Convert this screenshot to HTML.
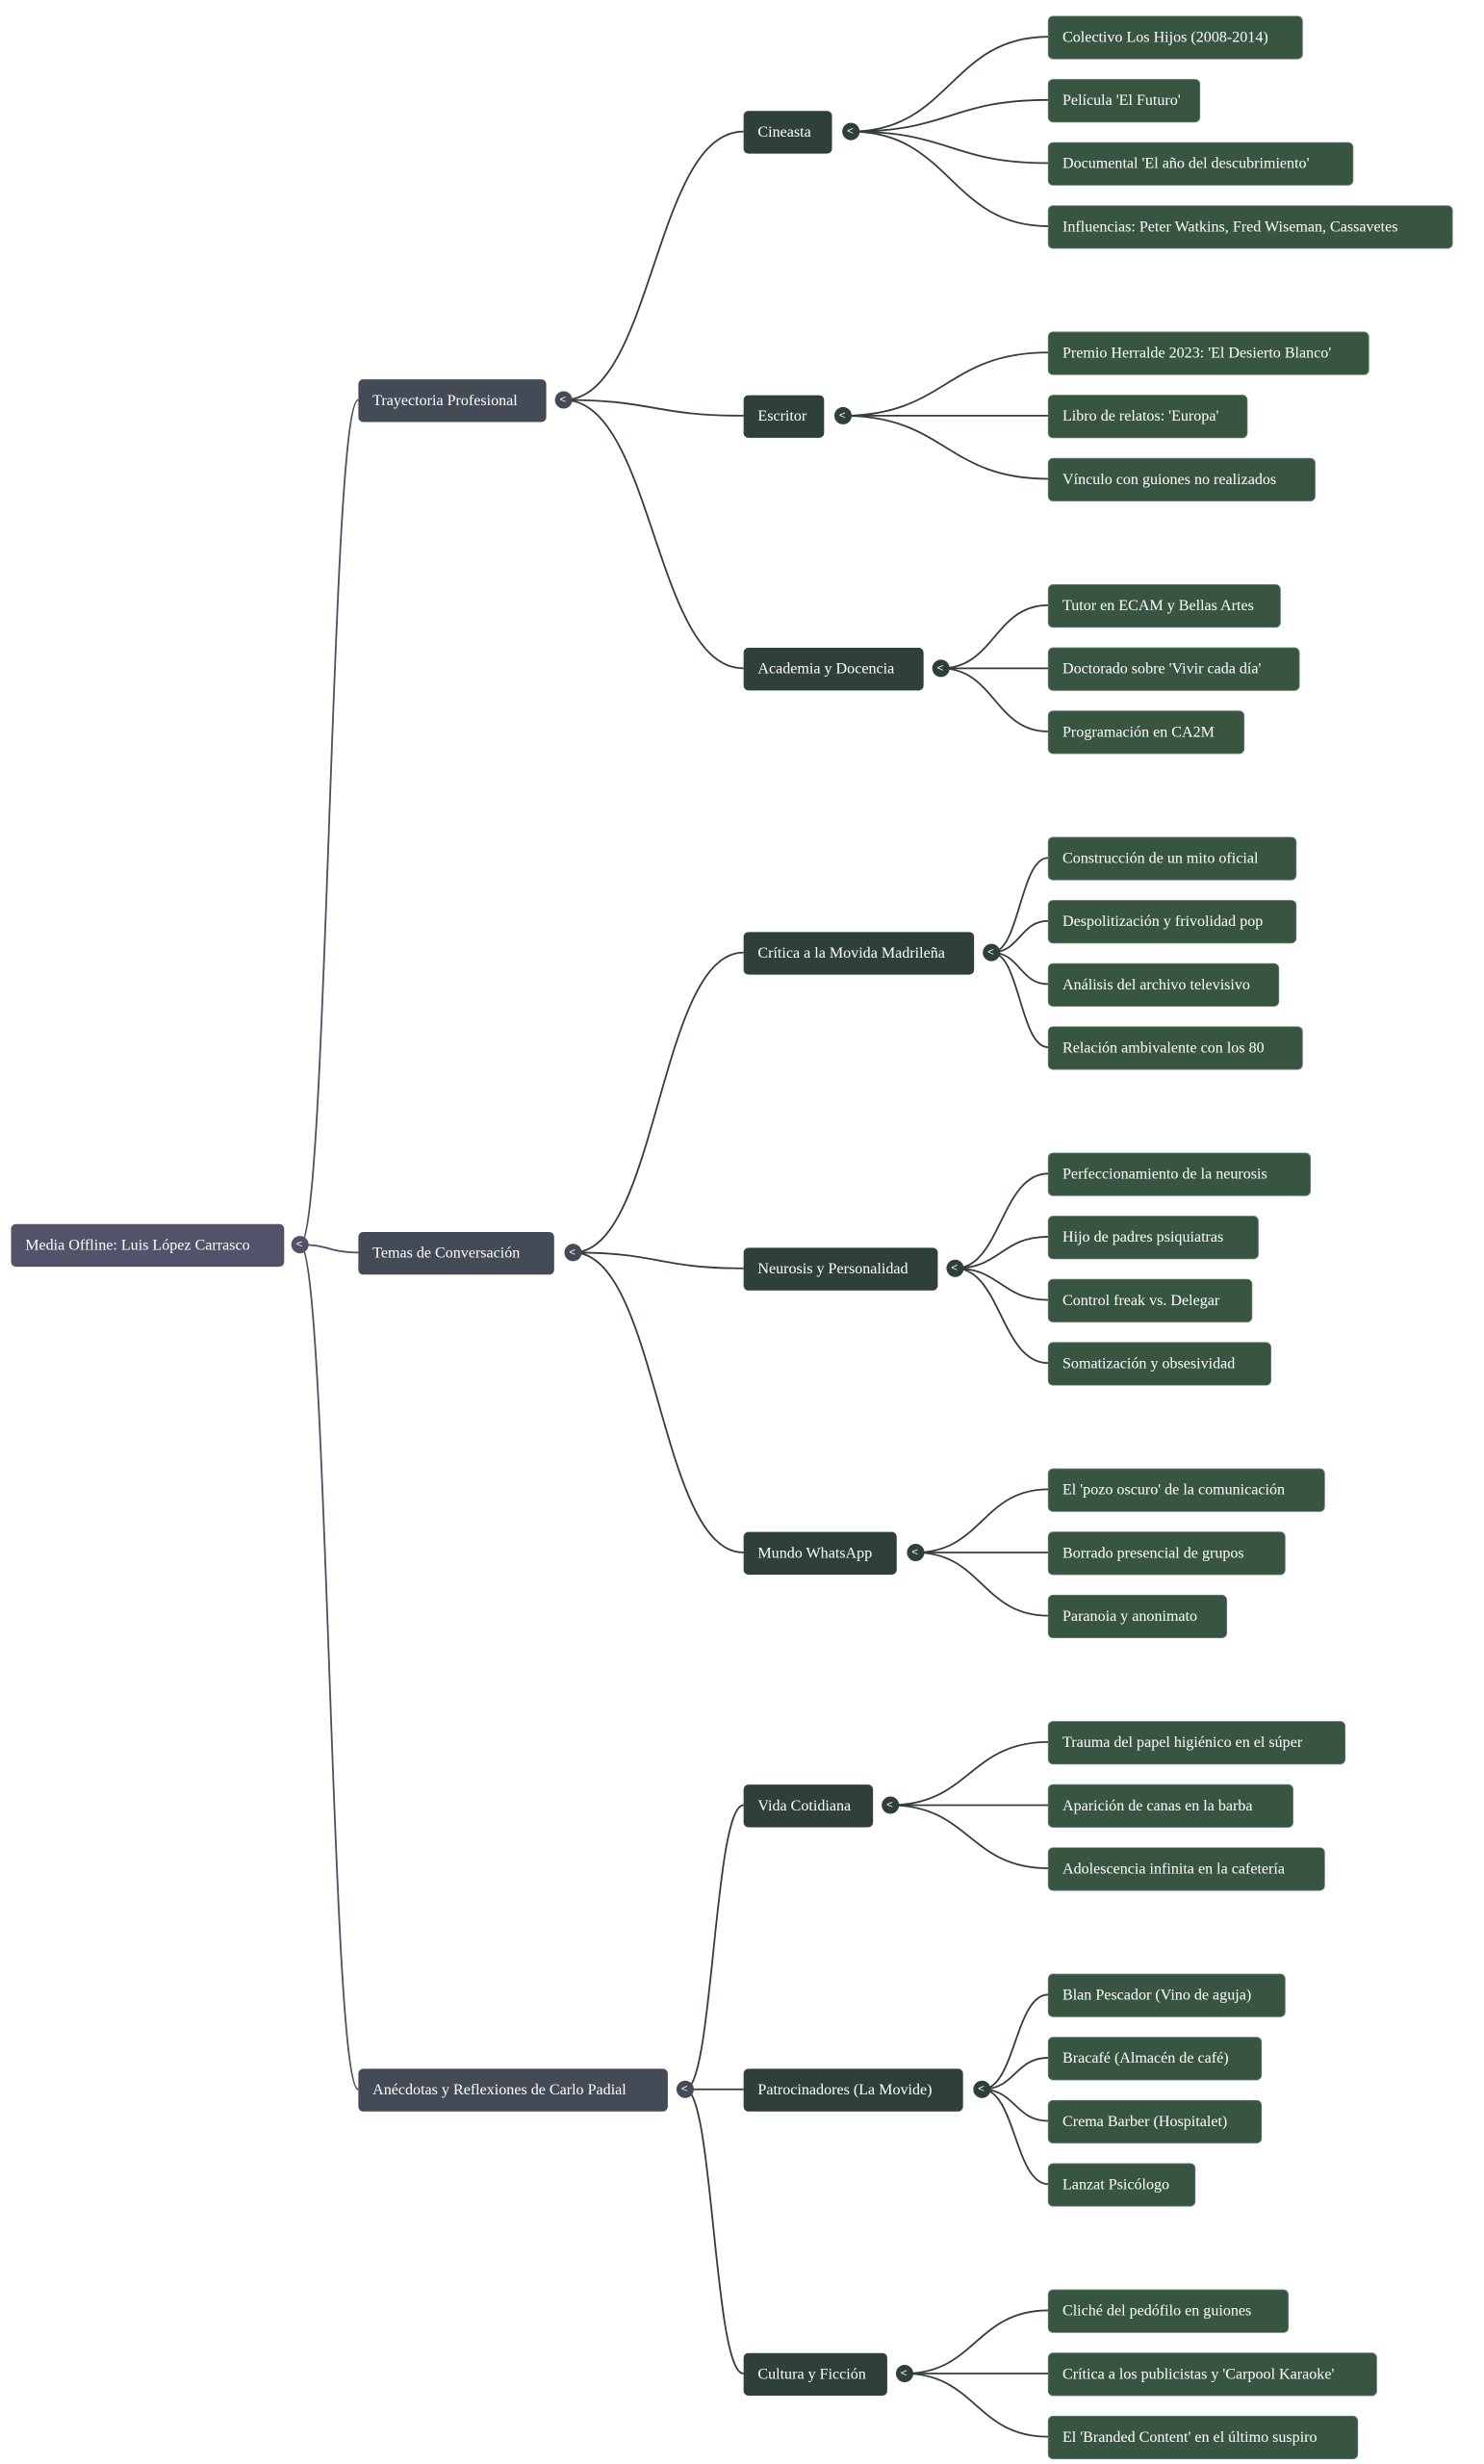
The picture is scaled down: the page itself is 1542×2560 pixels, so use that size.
<!DOCTYPE html>
<html><head><meta charset="utf-8"><style>
html,body{margin:0;padding:0;background:#fff;}
svg{display:block;}
text{font-family:"Liberation Serif",serif;font-size:9.8px;fill:#fff;dominant-baseline:central;}
.t{font-family:"Liberation Sans",sans-serif;font-size:7px;}
</style></head><body>
<svg width="1542" height="2560" viewBox="0 0 940 1560" xmlns="http://www.w3.org/2000/svg">
<g fill="none" stroke-width="1.1">
<g stroke="#4e4e66">
<path d="M190,788 C208,788 209,253 227,253"/>
<path d="M190,788 C208,788 209,793 227,793"/>
<path d="M190,788 C208,788 209,1323 227,1323"/>
</g>
<g stroke="#353d3d">
<path d="M357,253 C414,253 414,83 471,83"/>
<path d="M357,253 C414,253 414,263 471,263"/>
<path d="M357,253 C414,253 414,423 471,423"/>
<path d="M363,793 C417,793 417,603 471,603"/>
<path d="M363,793 C417,793 417,803 471,803"/>
<path d="M363,793 C417,793 417,983 471,983"/>
<path d="M434,1323 C452,1323 452,1143 471,1143"/>
<path d="M434,1323 C452,1323 452,1323 471,1323"/>
<path d="M434,1323 C452,1323 452,1503 471,1503"/>

<path d="M539,83 C602,83 602,23 664,23"/>
<path d="M539,83 C602,83 602,63 664,63"/>
<path d="M539,83 C602,83 602,103 664,103"/>
<path d="M539,83 C602,83 602,143 664,143"/>
<path d="M534,263 C599,263 599,223 664,223"/>
<path d="M534,263 C599,263 599,263 664,263"/>
<path d="M534,263 C599,263 599,303 664,303"/>
<path d="M596,423 C630,423 630,383 664,383"/>
<path d="M596,423 C630,423 630,423 664,423"/>
<path d="M596,423 C630,423 630,463 664,463"/>
<path d="M628,603 C646,603 646,543 664,543"/>
<path d="M628,603 C646,603 646,583 664,583"/>
<path d="M628,603 C646,603 646,623 664,623"/>
<path d="M628,603 C646,603 646,663 664,663"/>
<path d="M605,803 C634,803 634,743 664,743"/>
<path d="M605,803 C634,803 634,783 664,783"/>
<path d="M605,803 C634,803 634,823 664,823"/>
<path d="M605,803 C634,803 634,863 664,863"/>
<path d="M580,983 C622,983 622,943 664,943"/>
<path d="M580,983 C622,983 622,983 664,983"/>
<path d="M580,983 C622,983 622,1023 664,1023"/>
<path d="M564,1143 C614,1143 614,1103 664,1103"/>
<path d="M564,1143 C614,1143 614,1143 664,1143"/>
<path d="M564,1143 C614,1143 614,1183 664,1183"/>
<path d="M622,1323 C643,1323 643,1263 664,1263"/>
<path d="M622,1323 C643,1323 643,1303 664,1303"/>
<path d="M622,1323 C643,1323 643,1343 664,1343"/>
<path d="M622,1323 C643,1323 643,1383 664,1383"/>
<path d="M573,1503 C618,1503 618,1463 664,1463"/>
<path d="M573,1503 C618,1503 618,1503 664,1503"/>
<path d="M573,1503 C618,1503 618,1543 664,1543"/>
</g>
</g>

<!-- root -->
<rect x="7" y="775" width="173" height="27" rx="3" fill="#52536a"/>
<text x="16" y="788.5">Media Offline: Luis López Carrasco</text>
<circle cx="190" cy="788" r="5.5" fill="#52536a"/><text class="t" x="187.5" y="788">&lt;</text>

<!-- level 1 -->
<g fill="#444b56">
<rect x="227" y="240" width="119" height="27" rx="3"/>
<rect x="227" y="780" width="124" height="27" rx="3"/>
<rect x="227" y="1310" width="196" height="27" rx="3"/>
<circle cx="357" cy="253" r="5.5"/><circle cx="363" cy="793" r="5.5"/><circle cx="434" cy="1323" r="5.5"/>
</g>
<text x="236" y="253.5">Trayectoria Profesional</text>
<text x="236" y="793.5">Temas de Conversación</text>
<text x="236" y="1323.5">Anécdotas y Reflexiones de Carlo Padial</text>
<text class="t" x="354.5" y="253">&lt;</text><text class="t" x="360.5" y="793">&lt;</text><text class="t" x="431.5" y="1323">&lt;</text>

<!-- level 2 -->
<g fill="#2f3f3a">
<rect x="471" y="70" width="56" height="27" rx="3"/>
<rect x="471" y="250" width="51" height="27" rx="3"/>
<rect x="471" y="410" width="114" height="27" rx="3"/>
<rect x="471" y="590" width="146" height="27" rx="3"/>
<rect x="471" y="790" width="123" height="27" rx="3"/>
<rect x="471" y="970" width="97" height="27" rx="3"/>
<rect x="471" y="1130" width="82" height="27" rx="3"/>
<rect x="471" y="1310" width="139" height="27" rx="3"/>
<rect x="471" y="1490" width="91" height="27" rx="3"/>
<circle cx="539" cy="83" r="5.5"/><circle cx="534" cy="263" r="5.5"/><circle cx="596" cy="423" r="5.5"/>
<circle cx="628" cy="603" r="5.5"/><circle cx="605" cy="803" r="5.5"/><circle cx="580" cy="983" r="5.5"/>
<circle cx="564" cy="1143" r="5.5"/><circle cx="622" cy="1323" r="5.5"/><circle cx="573" cy="1503" r="5.5"/>
</g>
<text x="480" y="83.5">Cineasta</text>
<text x="480" y="263.5">Escritor</text>
<text x="480" y="423.5">Academia y Docencia</text>
<text x="480" y="603.5">Crítica a la Movida Madrileña</text>
<text x="480" y="803.5">Neurosis y Personalidad</text>
<text x="480" y="983.5">Mundo WhatsApp</text>
<text x="480" y="1143.5">Vida Cotidiana</text>
<text x="480" y="1323.5">Patrocinadores (La Movide)</text>
<text x="480" y="1503.5">Cultura y Ficción</text>
<g>
<text class="t" x="536.5" y="83">&lt;</text><text class="t" x="531.5" y="263">&lt;</text><text class="t" x="593.5" y="423">&lt;</text>
<text class="t" x="625.5" y="603">&lt;</text><text class="t" x="602.5" y="803">&lt;</text><text class="t" x="577.5" y="983">&lt;</text>
<text class="t" x="561.5" y="1143">&lt;</text><text class="t" x="619.5" y="1323">&lt;</text><text class="t" x="570.5" y="1503">&lt;</text>
</g>

<!-- level 3 -->
<g fill="#385542" stroke="#5f7a68" stroke-width="0.5">
<rect x="664" y="10" width="161" height="27" rx="3"/>
<rect x="664" y="50" width="96" height="27" rx="3"/>
<rect x="664" y="90" width="193" height="27" rx="3"/>
<rect x="664" y="130" width="256" height="27" rx="3"/>
<rect x="664" y="210" width="203" height="27" rx="3"/>
<rect x="664" y="250" width="126" height="27" rx="3"/>
<rect x="664" y="290" width="169" height="27" rx="3"/>
<rect x="664" y="370" width="147" height="27" rx="3"/>
<rect x="664" y="410" width="159" height="27" rx="3"/>
<rect x="664" y="450" width="124" height="27" rx="3"/>
<rect x="664" y="530" width="157" height="27" rx="3"/>
<rect x="664" y="570" width="157" height="27" rx="3"/>
<rect x="664" y="610" width="146" height="27" rx="3"/>
<rect x="664" y="650" width="161" height="27" rx="3"/>
<rect x="664" y="730" width="166" height="27" rx="3"/>
<rect x="664" y="770" width="133" height="27" rx="3"/>
<rect x="664" y="810" width="129" height="27" rx="3"/>
<rect x="664" y="850" width="141" height="27" rx="3"/>
<rect x="664" y="930" width="175" height="27" rx="3"/>
<rect x="664" y="970" width="150" height="27" rx="3"/>
<rect x="664" y="1010" width="113" height="27" rx="3"/>
<rect x="664" y="1090" width="188" height="27" rx="3"/>
<rect x="664" y="1130" width="155" height="27" rx="3"/>
<rect x="664" y="1170" width="175" height="27" rx="3"/>
<rect x="664" y="1250" width="150" height="27" rx="3"/>
<rect x="664" y="1290" width="135" height="27" rx="3"/>
<rect x="664" y="1330" width="135" height="27" rx="3"/>
<rect x="664" y="1370" width="93" height="27" rx="3"/>
<rect x="664" y="1450" width="152" height="27" rx="3"/>
<rect x="664" y="1490" width="208" height="27" rx="3"/>
<rect x="664" y="1530" width="196" height="27" rx="3"/>
</g>
<g>
<text x="673" y="23.5">Colectivo Los Hijos (2008-2014)</text>
<text x="673" y="63.5">Película 'El Futuro'</text>
<text x="673" y="103.5">Documental 'El año del descubrimiento'</text>
<text x="673" y="143.5">Influencias: Peter Watkins, Fred Wiseman, Cassavetes</text>
<text x="673" y="223.5">Premio Herralde 2023: 'El Desierto Blanco'</text>
<text x="673" y="263.5">Libro de relatos: 'Europa'</text>
<text x="673" y="303.5">Vínculo con guiones no realizados</text>
<text x="673" y="383.5">Tutor en ECAM y Bellas Artes</text>
<text x="673" y="423.5">Doctorado sobre 'Vivir cada día'</text>
<text x="673" y="463.5">Programación en CA2M</text>
<text x="673" y="543.5">Construcción de un mito oficial</text>
<text x="673" y="583.5">Despolitización y frivolidad pop</text>
<text x="673" y="623.5">Análisis del archivo televisivo</text>
<text x="673" y="663.5">Relación ambivalente con los 80</text>
<text x="673" y="743.5">Perfeccionamiento de la neurosis</text>
<text x="673" y="783.5">Hijo de padres psiquiatras</text>
<text x="673" y="823.5">Control freak vs. Delegar</text>
<text x="673" y="863.5">Somatización y obsesividad</text>
<text x="673" y="943.5">El 'pozo oscuro' de la comunicación</text>
<text x="673" y="983.5">Borrado presencial de grupos</text>
<text x="673" y="1023.5">Paranoia y anonimato</text>
<text x="673" y="1103.5">Trauma del papel higiénico en el súper</text>
<text x="673" y="1143.5">Aparición de canas en la barba</text>
<text x="673" y="1183.5">Adolescencia infinita en la cafetería</text>
<text x="673" y="1263.5">Blan Pescador (Vino de aguja)</text>
<text x="673" y="1303.5">Bracafé (Almacén de café)</text>
<text x="673" y="1343.5">Crema Barber (Hospitalet)</text>
<text x="673" y="1383.5">Lanzat Psicólogo</text>
<text x="673" y="1463.5">Cliché del pedófilo en guiones</text>
<text x="673" y="1503.5">Crítica a los publicistas y 'Carpool Karaoke'</text>
<text x="673" y="1543.5">El 'Branded Content' en el último suspiro</text>
</g>
</svg>
</body></html>
